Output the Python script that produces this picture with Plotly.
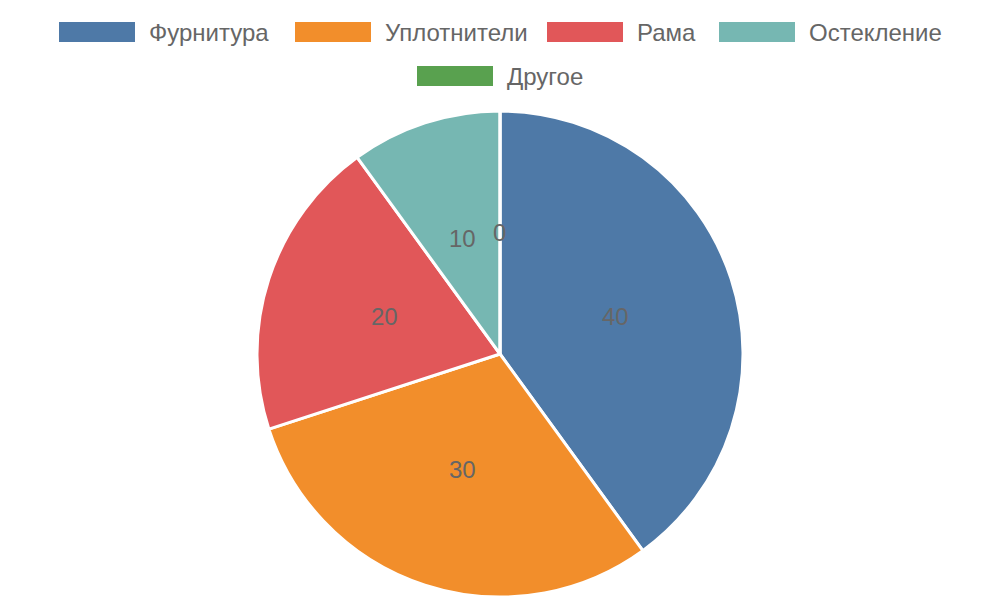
import math
import plotly.graph_objects as go

categories = ["Фурнитура", "Уплотнители", "Рама", "Остекление", "Другое"]
values = [40, 30, 20, 10, 0]
colors = ["#4e79a7", "#f28e2b", "#e15759", "#76b7b2", "#59a14f"]

W, H = 1000, 600
CX, CY, R = 500, 354, 243
FONT = "Liberation Sans, Arial, sans-serif"
TXT = "#666666"

fig = go.Figure()
fig.add_trace(go.Pie(
    labels=categories, values=values, sort=False, direction="clockwise", rotation=0,
    marker=dict(colors=colors, line=dict(color="white", width=3)),
    textinfo="none", hoverinfo="label+value", showlegend=False,
    domain=dict(x=[(CX - R) / W, (CX + R) / W], y=[(H - CY - R) / H, (H - CY + R) / H]),
))

annotations = []
total = sum(values)
cum = 0
for v in values:
    mid = (cum + v / 2) / total * 2 * math.pi
    cum += v
    px = CX + 0.5 * R * math.sin(mid)
    py = CY - 0.5 * R * math.cos(mid)
    annotations.append(dict(x=px / W, y=1 - py / H, xref="paper", yref="paper", text=str(v),
                            showarrow=False, xanchor="center", yanchor="middle",
                            font=dict(family=FONT, size=24, color=TXT)))

# custom legend (Chart.js-like wide swatches)
legend_pos = [(59, 32), (295, 32), (547, 32), (719, 32), (417, 76)]
shapes = []
for (lx, ly), name, col in zip(legend_pos, categories, colors):
    shapes.append(dict(type="rect", xref="paper", yref="paper",
                       x0=lx / W, x1=(lx + 76) / W, y0=1 - (ly + 10) / H, y1=1 - (ly - 10) / H,
                       fillcolor=col, line=dict(width=0)))
    annotations.append(dict(x=(lx + 88) / W, y=1 - ly / H, xref="paper", yref="paper", text=name,
                            showarrow=False, xanchor="left", yanchor="middle",
                            font=dict(family=FONT, size=24, color=TXT)))

fig.update_layout(width=W, height=H, margin=dict(l=0, r=0, t=0, b=0),
                  paper_bgcolor="white", plot_bgcolor="white",
                  shapes=shapes, annotations=annotations, showlegend=False)
fig.write_html("out.html")
